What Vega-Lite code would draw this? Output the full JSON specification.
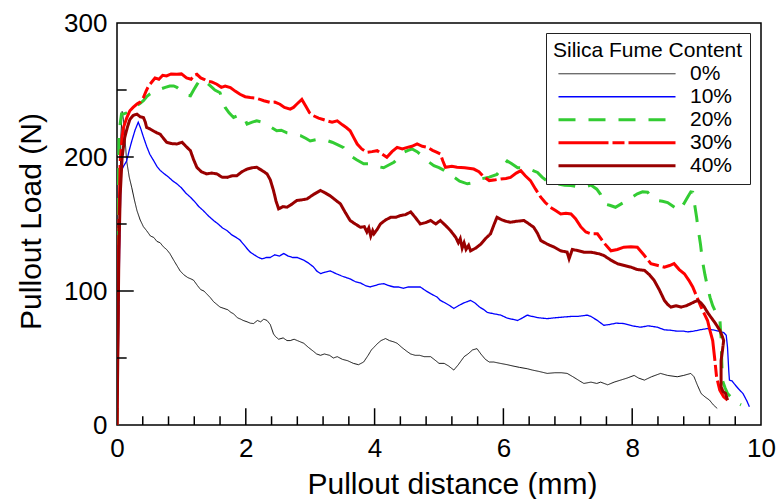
{
  "$schema": "https://vega.github.io/schema/vega-lite/v6.json",
  "width": 644,
  "height": 402,
  "autosize": {"type": "none"},
  "padding": {"left": 117, "top": 23, "right": 15, "bottom": 74},
  "background": "white",
  "config": {
    "view": {"stroke": "black", "strokeWidth": 1.5},
    "font": "Liberation Sans",
    "axis": {
      "domain": false,
      "grid": false,
      "ticks": false,
      "labelFont": "Liberation Sans",
      "labelFontSize": 26,
      "labelColor": "black",
      "titleFont": "Liberation Sans",
      "titleFontSize": 30,
      "titleFontWeight": "normal",
      "titleColor": "black",
      "format": "d"
    },
    "legend": {
      "orient": "none",
      "legendX": 429,
      "legendY": 10,
      "padding": 7,
      "strokeColor": "#222222",
      "fillColor": "white",
      "titleFont": "Liberation Sans",
      "titleFontSize": 21,
      "titleFontWeight": "normal",
      "titleColor": "black",
      "titlePadding": 2,
      "titleLimit": 400,
      "labelFont": "Liberation Sans",
      "labelFontSize": 21,
      "labelColor": "black",
      "symbolType": "stroke",
      "symbolSize": 13689,
      "clipHeight": 21.5,
      "labelOffset": 13,
      "symbolOffset": 4,
      "rowPadding": 0
    }
  },
  "layer": [
    {
      "data": {
        "values": [
          {"s":"0%","x":0,"y":0},{"s":"0%","x":0.02,"y":60},{"s":"0%","x":0.04,"y":150},{"s":"0%","x":0.06,"y":215},{"s":"0%","x":0.08,"y":234},{"s":"0%","x":0.1,"y":228},{"s":"0%","x":0.13,"y":210},{"s":"0%","x":0.15,"y":197},{"s":"0%","x":0.19,"y":185},{"s":"0%","x":0.23,"y":177},{"s":"0%","x":0.27,"y":168},{"s":"0%","x":0.31,"y":160},{"s":"0%","x":0.36,"y":153},{"s":"0%","x":0.41,"y":148},{"s":"0%","x":0.46,"y":145},{"s":"0%","x":0.52,"y":141},{"s":"0%","x":0.57,"y":140},{"s":"0%","x":0.62,"y":137},{"s":"0%","x":0.67,"y":136},{"s":"0%","x":0.72,"y":133},{"s":"0%","x":0.77,"y":131},{"s":"0%","x":0.82,"y":128},{"s":"0%","x":0.88,"y":123},{"s":"0%","x":0.93,"y":119},{"s":"0%","x":0.98,"y":115},{"s":"0%","x":1.04,"y":112},{"s":"0%","x":1.1,"y":110},{"s":"0%","x":1.15,"y":109},{"s":"0%","x":1.19,"y":108},{"s":"0%","x":1.25,"y":104},{"s":"0%","x":1.3,"y":101},{"s":"0%","x":1.35,"y":100},{"s":"0%","x":1.39,"y":98},{"s":"0%","x":1.45,"y":95},{"s":"0%","x":1.5,"y":92},{"s":"0%","x":1.55,"y":90},{"s":"0%","x":1.6,"y":88},{"s":"0%","x":1.66,"y":87},{"s":"0%","x":1.72,"y":86},{"s":"0%","x":1.77,"y":84},{"s":"0%","x":1.81,"y":83},{"s":"0%","x":1.87,"y":80},{"s":"0%","x":1.92,"y":79},{"s":"0%","x":1.96,"y":78},{"s":"0%","x":2.02,"y":77},{"s":"0%","x":2.07,"y":76},{"s":"0%","x":2.12,"y":75.7},{"s":"0%","x":2.18,"y":78},{"s":"0%","x":2.23,"y":77},{"s":"0%","x":2.28,"y":79},{"s":"0%","x":2.33,"y":78},{"s":"0%","x":2.38,"y":75},{"s":"0%","x":2.43,"y":68},{"s":"0%","x":2.46,"y":66},{"s":"0%","x":2.51,"y":64},{"s":"0%","x":2.58,"y":65},{"s":"0%","x":2.64,"y":63},{"s":"0%","x":2.69,"y":63},{"s":"0%","x":2.75,"y":64},{"s":"0%","x":2.8,"y":63},{"s":"0%","x":2.85,"y":62},{"s":"0%","x":2.9,"y":61},{"s":"0%","x":2.97,"y":58},{"s":"0%","x":3.05,"y":55},{"s":"0%","x":3.1,"y":53},{"s":"0%","x":3.16,"y":52},{"s":"0%","x":3.22,"y":53},{"s":"0%","x":3.3,"y":52},{"s":"0%","x":3.36,"y":50},{"s":"0%","x":3.42,"y":51},{"s":"0%","x":3.5,"y":49},{"s":"0%","x":3.58,"y":48},{"s":"0%","x":3.67,"y":46},{"s":"0%","x":3.75,"y":45},{"s":"0%","x":3.83,"y":47},{"s":"0%","x":3.9,"y":52},{"s":"0%","x":3.95,"y":56},{"s":"0%","x":3.99,"y":58},{"s":"0%","x":4.05,"y":61},{"s":"0%","x":4.1,"y":63},{"s":"0%","x":4.17,"y":64.5},{"s":"0%","x":4.23,"y":63},{"s":"0%","x":4.3,"y":62},{"s":"0%","x":4.35,"y":61},{"s":"0%","x":4.42,"y":58},{"s":"0%","x":4.5,"y":55},{"s":"0%","x":4.56,"y":53},{"s":"0%","x":4.63,"y":52},{"s":"0%","x":4.7,"y":52},{"s":"0%","x":4.77,"y":51},{"s":"0%","x":4.87,"y":51},{"s":"0%","x":4.95,"y":48},{"s":"0%","x":5.0,"y":46},{"s":"0%","x":5.08,"y":46},{"s":"0%","x":5.15,"y":44},{"s":"0%","x":5.23,"y":41},{"s":"0%","x":5.3,"y":45},{"s":"0%","x":5.39,"y":51},{"s":"0%","x":5.45,"y":53},{"s":"0%","x":5.52,"y":56},{"s":"0%","x":5.59,"y":57},{"s":"0%","x":5.65,"y":53},{"s":"0%","x":5.72,"y":49},{"s":"0%","x":5.78,"y":47},{"s":"0%","x":5.85,"y":47},{"s":"0%","x":5.95,"y":46},{"s":"0%","x":6.06,"y":45},{"s":"0%","x":6.15,"y":44},{"s":"0%","x":6.25,"y":43},{"s":"0%","x":6.37,"y":42},{"s":"0%","x":6.45,"y":41},{"s":"0%","x":6.55,"y":40},{"s":"0%","x":6.68,"y":38.5},{"s":"0%","x":6.8,"y":39},{"s":"0%","x":6.9,"y":39},{"s":"0%","x":6.99,"y":38.5},{"s":"0%","x":7.08,"y":36},{"s":"0%","x":7.18,"y":33},{"s":"0%","x":7.25,"y":31},{"s":"0%","x":7.36,"y":32},{"s":"0%","x":7.45,"y":31},{"s":"0%","x":7.51,"y":32},{"s":"0%","x":7.62,"y":30},{"s":"0%","x":7.72,"y":32},{"s":"0%","x":7.82,"y":33.5},{"s":"0%","x":7.92,"y":35},{"s":"0%","x":8.03,"y":37},{"s":"0%","x":8.1,"y":35},{"s":"0%","x":8.19,"y":33.5},{"s":"0%","x":8.3,"y":36},{"s":"0%","x":8.44,"y":38.5},{"s":"0%","x":8.55,"y":37},{"s":"0%","x":8.7,"y":36},{"s":"0%","x":8.8,"y":37},{"s":"0%","x":8.91,"y":38.5},{"s":"0%","x":8.96,"y":36},{"s":"0%","x":9.01,"y":30},{"s":"0%","x":9.07,"y":23.5},{"s":"0%","x":9.13,"y":21},{"s":"0%","x":9.2,"y":18.6},{"s":"0%","x":9.26,"y":15},{"s":"0%","x":9.32,"y":12.4},

          {"s":"10%","x":0,"y":0},{"s":"10%","x":0.02,"y":50},{"s":"10%","x":0.04,"y":130},{"s":"10%","x":0.06,"y":180},{"s":"10%","x":0.07,"y":190},{"s":"10%","x":0.1,"y":193},{"s":"10%","x":0.15,"y":197},{"s":"10%","x":0.19,"y":205},{"s":"10%","x":0.23,"y":212},{"s":"10%","x":0.28,"y":220},{"s":"10%","x":0.33,"y":226},{"s":"10%","x":0.37,"y":221},{"s":"10%","x":0.41,"y":215},{"s":"10%","x":0.46,"y":208},{"s":"10%","x":0.51,"y":202},{"s":"10%","x":0.56,"y":198},{"s":"10%","x":0.62,"y":193},{"s":"10%","x":0.67,"y":190},{"s":"10%","x":0.72,"y":188},{"s":"10%","x":0.8,"y":185},{"s":"10%","x":0.87,"y":182},{"s":"10%","x":0.93,"y":180},{"s":"10%","x":1.0,"y":177},{"s":"10%","x":1.07,"y":173},{"s":"10%","x":1.14,"y":170},{"s":"10%","x":1.2,"y":167},{"s":"10%","x":1.27,"y":163},{"s":"10%","x":1.34,"y":160},{"s":"10%","x":1.42,"y":156},{"s":"10%","x":1.5,"y":152.6},{"s":"10%","x":1.57,"y":150},{"s":"10%","x":1.64,"y":147},{"s":"10%","x":1.71,"y":145},{"s":"10%","x":1.78,"y":142},{"s":"10%","x":1.85,"y":140},{"s":"10%","x":1.91,"y":138},{"s":"10%","x":1.98,"y":134},{"s":"10%","x":2.03,"y":131},{"s":"10%","x":2.07,"y":129},{"s":"10%","x":2.13,"y":127},{"s":"10%","x":2.2,"y":125},{"s":"10%","x":2.25,"y":124},{"s":"10%","x":2.32,"y":125},{"s":"10%","x":2.38,"y":125},{"s":"10%","x":2.45,"y":127},{"s":"10%","x":2.52,"y":126},{"s":"10%","x":2.59,"y":128},{"s":"10%","x":2.66,"y":126},{"s":"10%","x":2.73,"y":125},{"s":"10%","x":2.8,"y":125},{"s":"10%","x":2.9,"y":123},{"s":"10%","x":2.97,"y":121},{"s":"10%","x":3.05,"y":118},{"s":"10%","x":3.1,"y":115},{"s":"10%","x":3.16,"y":113},{"s":"10%","x":3.23,"y":114},{"s":"10%","x":3.31,"y":115},{"s":"10%","x":3.4,"y":113},{"s":"10%","x":3.5,"y":111},{"s":"10%","x":3.56,"y":110},{"s":"10%","x":3.62,"y":109},{"s":"10%","x":3.7,"y":107},{"s":"10%","x":3.78,"y":106},{"s":"10%","x":3.86,"y":104},{"s":"10%","x":3.93,"y":103},{"s":"10%","x":4.0,"y":104},{"s":"10%","x":4.07,"y":105},{"s":"10%","x":4.14,"y":105.5},{"s":"10%","x":4.22,"y":104},{"s":"10%","x":4.3,"y":103},{"s":"10%","x":4.37,"y":103},{"s":"10%","x":4.45,"y":102},{"s":"10%","x":4.52,"y":103},{"s":"10%","x":4.6,"y":103},{"s":"10%","x":4.71,"y":103},{"s":"10%","x":4.8,"y":100},{"s":"10%","x":4.87,"y":98},{"s":"10%","x":4.97,"y":95.5},{"s":"10%","x":5.02,"y":93},{"s":"10%","x":5.1,"y":91},{"s":"10%","x":5.17,"y":89},{"s":"10%","x":5.23,"y":87},{"s":"10%","x":5.3,"y":89},{"s":"10%","x":5.38,"y":91},{"s":"10%","x":5.49,"y":93},{"s":"10%","x":5.56,"y":91},{"s":"10%","x":5.63,"y":88},{"s":"10%","x":5.7,"y":86},{"s":"10%","x":5.75,"y":84},{"s":"10%","x":5.85,"y":83},{"s":"10%","x":5.96,"y":82},{"s":"10%","x":6.05,"y":80},{"s":"10%","x":6.13,"y":79},{"s":"10%","x":6.22,"y":78},{"s":"10%","x":6.3,"y":80},{"s":"10%","x":6.37,"y":82},{"s":"10%","x":6.45,"y":81},{"s":"10%","x":6.55,"y":80},{"s":"10%","x":6.68,"y":79.4},{"s":"10%","x":6.8,"y":80},{"s":"10%","x":6.94,"y":80.6},{"s":"10%","x":7.05,"y":81},{"s":"10%","x":7.15,"y":81},{"s":"10%","x":7.3,"y":82},{"s":"10%","x":7.36,"y":81},{"s":"10%","x":7.46,"y":78},{"s":"10%","x":7.56,"y":74.4},{"s":"10%","x":7.65,"y":75},{"s":"10%","x":7.75,"y":76},{"s":"10%","x":7.87,"y":75.7},{"s":"10%","x":8.0,"y":74},{"s":"10%","x":8.13,"y":73},{"s":"10%","x":8.25,"y":74},{"s":"10%","x":8.39,"y":73},{"s":"10%","x":8.5,"y":71},{"s":"10%","x":8.6,"y":70.7},{"s":"10%","x":8.7,"y":70},{"s":"10%","x":8.8,"y":70},{"s":"10%","x":8.86,"y":69.5},{"s":"10%","x":8.95,"y":70},{"s":"10%","x":9.05,"y":71},{"s":"10%","x":9.17,"y":72},{"s":"10%","x":9.25,"y":71},{"s":"10%","x":9.35,"y":70},{"s":"10%","x":9.42,"y":69},{"s":"10%","x":9.46,"y":67},{"s":"10%","x":9.48,"y":58},{"s":"10%","x":9.5,"y":40},{"s":"10%","x":9.51,"y":33.5},{"s":"10%","x":9.55,"y":33},{"s":"10%","x":9.58,"y":31},{"s":"10%","x":9.65,"y":27},{"s":"10%","x":9.72,"y":23.5},{"s":"10%","x":9.78,"y":18},{"s":"10%","x":9.82,"y":13.6},

          {"s":"20%","x":0,"y":0},{"s":"20%","x":0.01,"y":80},{"s":"20%","x":0.02,"y":160},{"s":"20%","x":0.03,"y":215},{"s":"20%","x":0.05,"y":225},{"s":"20%","x":0.07,"y":232},{"s":"20%","x":0.1,"y":232},{"s":"20%","x":0.15,"y":233},{"s":"20%","x":0.2,"y":235},{"s":"20%","x":0.25,"y":236},{"s":"20%","x":0.3,"y":238},{"s":"20%","x":0.36,"y":240},{"s":"20%","x":0.41,"y":242},{"s":"20%","x":0.46,"y":245},{"s":"20%","x":0.51,"y":247},{"s":"20%","x":0.58,"y":249},{"s":"20%","x":0.67,"y":250.6},{"s":"20%","x":0.75,"y":252},{"s":"20%","x":0.82,"y":253},{"s":"20%","x":0.88,"y":253},{"s":"20%","x":0.93,"y":252},{"s":"20%","x":0.98,"y":250},{"s":"20%","x":1.03,"y":248},{"s":"20%","x":1.09,"y":246},{"s":"20%","x":1.14,"y":245.7},{"s":"20%","x":1.19,"y":250},{"s":"20%","x":1.24,"y":254},{"s":"20%","x":1.28,"y":257},{"s":"20%","x":1.32,"y":258},{"s":"20%","x":1.38,"y":256},{"s":"20%","x":1.45,"y":253},{"s":"20%","x":1.52,"y":250},{"s":"20%","x":1.6,"y":248},{"s":"20%","x":1.64,"y":242},{"s":"20%","x":1.68,"y":237},{"s":"20%","x":1.74,"y":233},{"s":"20%","x":1.81,"y":229.5},{"s":"20%","x":1.88,"y":231},{"s":"20%","x":1.96,"y":230.8},{"s":"20%","x":2.02,"y":224.6},{"s":"20%","x":2.1,"y":226},{"s":"20%","x":2.17,"y":227},{"s":"20%","x":2.25,"y":226},{"s":"20%","x":2.33,"y":224.6},{"s":"20%","x":2.4,"y":222},{"s":"20%","x":2.48,"y":219.6},{"s":"20%","x":2.55,"y":220},{"s":"20%","x":2.64,"y":218},{"s":"20%","x":2.75,"y":217},{"s":"20%","x":2.85,"y":216},{"s":"20%","x":2.93,"y":214},{"s":"20%","x":3.0,"y":212},{"s":"20%","x":3.1,"y":213},{"s":"20%","x":3.21,"y":212},{"s":"20%","x":3.28,"y":212},{"s":"20%","x":3.34,"y":211},{"s":"20%","x":3.43,"y":209},{"s":"20%","x":3.52,"y":207},{"s":"20%","x":3.57,"y":204},{"s":"20%","x":3.62,"y":201},{"s":"20%","x":3.72,"y":198},{"s":"20%","x":3.83,"y":195},{"s":"20%","x":3.93,"y":195},{"s":"20%","x":4.03,"y":193},{"s":"20%","x":4.14,"y":192},{"s":"20%","x":4.22,"y":194},{"s":"20%","x":4.3,"y":196},{"s":"20%","x":4.38,"y":200},{"s":"20%","x":4.45,"y":203.5},{"s":"20%","x":4.52,"y":205},{"s":"20%","x":4.58,"y":206},{"s":"20%","x":4.66,"y":204},{"s":"20%","x":4.76,"y":200},{"s":"20%","x":4.85,"y":196},{"s":"20%","x":4.92,"y":193.5},{"s":"20%","x":5.0,"y":192},{"s":"20%","x":5.08,"y":190},{"s":"20%","x":5.15,"y":188},{"s":"20%","x":5.23,"y":185},{"s":"20%","x":5.32,"y":182},{"s":"20%","x":5.44,"y":180},{"s":"20%","x":5.55,"y":181},{"s":"20%","x":5.65,"y":183.6},{"s":"20%","x":5.78,"y":185},{"s":"20%","x":5.9,"y":187},{"s":"20%","x":5.98,"y":192},{"s":"20%","x":6.06,"y":197},{"s":"20%","x":6.13,"y":195},{"s":"20%","x":6.22,"y":192},{"s":"20%","x":6.3,"y":192},{"s":"20%","x":6.37,"y":192},{"s":"20%","x":6.45,"y":190},{"s":"20%","x":6.53,"y":188.5},{"s":"20%","x":6.6,"y":185},{"s":"20%","x":6.68,"y":182},{"s":"20%","x":6.76,"y":181},{"s":"20%","x":6.84,"y":180},{"s":"20%","x":6.95,"y":179},{"s":"20%","x":7.05,"y":178.7},{"s":"20%","x":7.13,"y":178},{"s":"20%","x":7.2,"y":177.4},{"s":"20%","x":7.28,"y":178},{"s":"20%","x":7.36,"y":179},{"s":"20%","x":7.45,"y":176},{"s":"20%","x":7.51,"y":172},{"s":"20%","x":7.56,"y":165},{"s":"20%","x":7.65,"y":164},{"s":"20%","x":7.74,"y":162.5},{"s":"20%","x":7.83,"y":165},{"s":"20%","x":7.93,"y":167.5},{"s":"20%","x":8.0,"y":170},{"s":"20%","x":8.08,"y":172.5},{"s":"20%","x":8.16,"y":174},{"s":"20%","x":8.24,"y":173.7},{"s":"20%","x":8.3,"y":170},{"s":"20%","x":8.39,"y":167.5},{"s":"20%","x":8.47,"y":167},{"s":"20%","x":8.55,"y":166},{"s":"20%","x":8.64,"y":163},{"s":"20%","x":8.73,"y":160},{"s":"20%","x":8.8,"y":165},{"s":"20%","x":8.86,"y":170},{"s":"20%","x":8.91,"y":174},{"s":"20%","x":8.94,"y":173.7},{"s":"20%","x":8.96,"y":167.5},{"s":"20%","x":9.0,"y":155},{"s":"20%","x":9.02,"y":147.6},{"s":"20%","x":9.06,"y":135},{"s":"20%","x":9.09,"y":122.8},{"s":"20%","x":9.13,"y":112},{"s":"20%","x":9.17,"y":103},{"s":"20%","x":9.21,"y":95},{"s":"20%","x":9.25,"y":89},{"s":"20%","x":9.3,"y":84},{"s":"20%","x":9.36,"y":80.6},{"s":"20%","x":9.37,"y":72},{"s":"20%","x":9.38,"y":65.7},{"s":"20%","x":9.39,"y":48},{"s":"20%","x":9.4,"y":33.5},{"s":"20%","x":9.44,"y":28},{"s":"20%","x":9.48,"y":23.5},{"s":"20%","x":9.53,"y":21},{"s":"20%","x":9.58,"y":18.6},{"s":"20%","x":9.63,"y":16.5},{"s":"20%","x":9.69,"y":15},

          {"s":"30%","x":0,"y":0},{"s":"30%","x":0.01,"y":60},{"s":"30%","x":0.03,"y":150},{"s":"30%","x":0.05,"y":197},{"s":"30%","x":0.08,"y":215},{"s":"30%","x":0.1,"y":222},{"s":"30%","x":0.15,"y":229},{"s":"30%","x":0.2,"y":234.5},{"s":"30%","x":0.25,"y":237},{"s":"30%","x":0.31,"y":239.5},{"s":"30%","x":0.36,"y":241},{"s":"30%","x":0.41,"y":244.4},{"s":"30%","x":0.45,"y":249},{"s":"30%","x":0.49,"y":253},{"s":"30%","x":0.54,"y":256},{"s":"30%","x":0.59,"y":259},{"s":"30%","x":0.65,"y":258},{"s":"30%","x":0.71,"y":261},{"s":"30%","x":0.77,"y":260.5},{"s":"30%","x":0.84,"y":262},{"s":"30%","x":0.93,"y":261.7},{"s":"30%","x":1.0,"y":262},{"s":"30%","x":1.08,"y":259},{"s":"30%","x":1.15,"y":258},{"s":"30%","x":1.2,"y":261},{"s":"30%","x":1.24,"y":261.7},{"s":"30%","x":1.3,"y":259},{"s":"30%","x":1.35,"y":258},{"s":"30%","x":1.39,"y":256.8},{"s":"30%","x":1.47,"y":256},{"s":"30%","x":1.55,"y":254.3},{"s":"30%","x":1.62,"y":252},{"s":"30%","x":1.68,"y":253},{"s":"30%","x":1.76,"y":251.8},{"s":"30%","x":1.84,"y":249},{"s":"30%","x":1.91,"y":246.8},{"s":"30%","x":1.99,"y":245},{"s":"30%","x":2.07,"y":244.4},{"s":"30%","x":2.15,"y":244},{"s":"30%","x":2.22,"y":243},{"s":"30%","x":2.28,"y":242},{"s":"30%","x":2.38,"y":240.7},{"s":"30%","x":2.45,"y":241},{"s":"30%","x":2.53,"y":239.4},{"s":"30%","x":2.6,"y":237},{"s":"30%","x":2.69,"y":235.7},{"s":"30%","x":2.74,"y":237},{"s":"30%","x":2.79,"y":239.4},{"s":"30%","x":2.87,"y":243},{"s":"30%","x":2.93,"y":238},{"s":"30%","x":2.99,"y":233},{"s":"30%","x":3.05,"y":230.8},{"s":"30%","x":3.13,"y":229},{"s":"30%","x":3.2,"y":228},{"s":"30%","x":3.26,"y":227},{"s":"30%","x":3.34,"y":226},{"s":"30%","x":3.42,"y":227},{"s":"30%","x":3.5,"y":224},{"s":"30%","x":3.56,"y":222},{"s":"30%","x":3.62,"y":219.6},{"s":"30%","x":3.67,"y":215},{"s":"30%","x":3.73,"y":209.7},{"s":"30%","x":3.8,"y":206},{"s":"30%","x":3.88,"y":203.5},{"s":"30%","x":3.96,"y":204},{"s":"30%","x":4.04,"y":204.7},{"s":"30%","x":4.12,"y":202},{"s":"30%","x":4.19,"y":199.8},{"s":"30%","x":4.27,"y":204},{"s":"30%","x":4.35,"y":207.2},{"s":"30%","x":4.43,"y":206},{"s":"30%","x":4.51,"y":207.2},{"s":"30%","x":4.58,"y":208},{"s":"30%","x":4.66,"y":209.7},{"s":"30%","x":4.74,"y":208},{"s":"30%","x":4.82,"y":207.2},{"s":"30%","x":4.9,"y":205},{"s":"30%","x":4.97,"y":203.5},{"s":"30%","x":5.02,"y":202.3},{"s":"30%","x":5.06,"y":197},{"s":"30%","x":5.1,"y":192.3},{"s":"30%","x":5.2,"y":193},{"s":"30%","x":5.28,"y":192.3},{"s":"30%","x":5.4,"y":192},{"s":"30%","x":5.54,"y":191},{"s":"30%","x":5.62,"y":189},{"s":"30%","x":5.7,"y":185},{"s":"30%","x":5.78,"y":182.4},{"s":"30%","x":5.88,"y":183},{"s":"30%","x":5.96,"y":183.6},{"s":"30%","x":6.04,"y":184},{"s":"30%","x":6.11,"y":184.8},{"s":"30%","x":6.2,"y":188},{"s":"30%","x":6.27,"y":189.8},{"s":"30%","x":6.34,"y":186},{"s":"30%","x":6.42,"y":182.4},{"s":"30%","x":6.5,"y":176},{"s":"30%","x":6.58,"y":170},{"s":"30%","x":6.65,"y":166},{"s":"30%","x":6.73,"y":162.5},{"s":"30%","x":6.81,"y":160},{"s":"30%","x":6.89,"y":157.5},{"s":"30%","x":6.97,"y":158},{"s":"30%","x":7.05,"y":157.5},{"s":"30%","x":7.12,"y":154},{"s":"30%","x":7.2,"y":148},{"s":"30%","x":7.28,"y":144},{"s":"30%","x":7.36,"y":142.7},{"s":"30%","x":7.46,"y":142.7},{"s":"30%","x":7.56,"y":136},{"s":"30%","x":7.67,"y":130},{"s":"30%","x":7.77,"y":131},{"s":"30%","x":7.87,"y":132.7},{"s":"30%","x":7.98,"y":133},{"s":"30%","x":8.08,"y":132.7},{"s":"30%","x":8.18,"y":127},{"s":"30%","x":8.29,"y":120.4},{"s":"30%","x":8.4,"y":119},{"s":"30%","x":8.5,"y":117.8},{"s":"30%","x":8.58,"y":119},{"s":"30%","x":8.65,"y":120.4},{"s":"30%","x":8.73,"y":116},{"s":"30%","x":8.81,"y":112.9},{"s":"30%","x":8.88,"y":108},{"s":"30%","x":8.94,"y":103},{"s":"30%","x":9.0,"y":96},{"s":"30%","x":9.07,"y":88},{"s":"30%","x":9.12,"y":83},{"s":"30%","x":9.17,"y":78},{"s":"30%","x":9.21,"y":70},{"s":"30%","x":9.25,"y":63},{"s":"30%","x":9.28,"y":50},{"s":"30%","x":9.31,"y":36},{"s":"30%","x":9.34,"y":30},{"s":"30%","x":9.36,"y":26},{"s":"30%","x":9.42,"y":21},{"s":"30%","x":9.48,"y":18.6},

          {"s":"40%","x":0,"y":0},{"s":"40%","x":0.01,"y":40},{"s":"40%","x":0.02,"y":90},{"s":"40%","x":0.03,"y":130},{"s":"40%","x":0.05,"y":172},{"s":"40%","x":0.08,"y":200},{"s":"40%","x":0.12,"y":214.6},{"s":"40%","x":0.16,"y":222},{"s":"40%","x":0.2,"y":228},{"s":"40%","x":0.25,"y":231},{"s":"40%","x":0.31,"y":232},{"s":"40%","x":0.36,"y":230},{"s":"40%","x":0.41,"y":229.5},{"s":"40%","x":0.44,"y":226},{"s":"40%","x":0.46,"y":222},{"s":"40%","x":0.51,"y":221},{"s":"40%","x":0.56,"y":219.6},{"s":"40%","x":0.62,"y":218},{"s":"40%","x":0.67,"y":217},{"s":"40%","x":0.72,"y":214},{"s":"40%","x":0.77,"y":211},{"s":"40%","x":0.85,"y":210},{"s":"40%","x":0.93,"y":209.7},{"s":"40%","x":1.01,"y":211},{"s":"40%","x":1.07,"y":208},{"s":"40%","x":1.14,"y":204.7},{"s":"40%","x":1.19,"y":198},{"s":"40%","x":1.24,"y":192.3},{"s":"40%","x":1.31,"y":189},{"s":"40%","x":1.39,"y":187.4},{"s":"40%","x":1.47,"y":188},{"s":"40%","x":1.55,"y":187.4},{"s":"40%","x":1.63,"y":185},{"s":"40%","x":1.71,"y":184.8},{"s":"40%","x":1.79,"y":186},{"s":"40%","x":1.86,"y":186},{"s":"40%","x":1.94,"y":189},{"s":"40%","x":2.02,"y":191},{"s":"40%","x":2.1,"y":192},{"s":"40%","x":2.17,"y":192.3},{"s":"40%","x":2.25,"y":190},{"s":"40%","x":2.33,"y":187.4},{"s":"40%","x":2.38,"y":183},{"s":"40%","x":2.43,"y":175},{"s":"40%","x":2.47,"y":167},{"s":"40%","x":2.51,"y":161.3},{"s":"40%","x":2.58,"y":163},{"s":"40%","x":2.64,"y":162.5},{"s":"40%","x":2.72,"y":165},{"s":"40%","x":2.79,"y":167.5},{"s":"40%","x":2.87,"y":168},{"s":"40%","x":2.95,"y":168.7},{"s":"40%","x":3.05,"y":172},{"s":"40%","x":3.16,"y":175},{"s":"40%","x":3.24,"y":173},{"s":"40%","x":3.31,"y":171},{"s":"40%","x":3.39,"y":168},{"s":"40%","x":3.47,"y":165},{"s":"40%","x":3.54,"y":159},{"s":"40%","x":3.62,"y":152.6},{"s":"40%","x":3.7,"y":150},{"s":"40%","x":3.78,"y":147.6},{"s":"40%","x":3.84,"y":148},{"s":"40%","x":3.88,"y":144},{"s":"40%","x":3.91,"y":147},{"s":"40%","x":3.94,"y":141},{"s":"40%","x":3.97,"y":145},{"s":"40%","x":3.99,"y":142.7},{"s":"40%","x":4.04,"y":146},{"s":"40%","x":4.09,"y":150},{"s":"40%","x":4.17,"y":153},{"s":"40%","x":4.25,"y":155},{"s":"40%","x":4.33,"y":155},{"s":"40%","x":4.4,"y":156.3},{"s":"40%","x":4.48,"y":157},{"s":"40%","x":4.56,"y":159},{"s":"40%","x":4.63,"y":155},{"s":"40%","x":4.71,"y":150},{"s":"40%","x":4.79,"y":151},{"s":"40%","x":4.87,"y":152.6},{"s":"40%","x":4.95,"y":150},{"s":"40%","x":5.02,"y":152.6},{"s":"40%","x":5.1,"y":149},{"s":"40%","x":5.18,"y":145},{"s":"40%","x":5.26,"y":140},{"s":"40%","x":5.3,"y":136},{"s":"40%","x":5.33,"y":139},{"s":"40%","x":5.36,"y":132},{"s":"40%","x":5.39,"y":136},{"s":"40%","x":5.42,"y":131},{"s":"40%","x":5.46,"y":134},{"s":"40%","x":5.49,"y":130},{"s":"40%","x":5.57,"y":132},{"s":"40%","x":5.65,"y":135},{"s":"40%","x":5.72,"y":139},{"s":"40%","x":5.8,"y":142.7},{"s":"40%","x":5.85,"y":149},{"s":"40%","x":5.9,"y":155},{"s":"40%","x":5.98,"y":153},{"s":"40%","x":6.04,"y":152},{"s":"40%","x":6.11,"y":151.3},{"s":"40%","x":6.2,"y":152},{"s":"40%","x":6.32,"y":152.6},{"s":"40%","x":6.4,"y":150},{"s":"40%","x":6.47,"y":147.6},{"s":"40%","x":6.53,"y":143},{"s":"40%","x":6.58,"y":137.7},{"s":"40%","x":6.68,"y":135},{"s":"40%","x":6.79,"y":132.7},{"s":"40%","x":6.89,"y":130},{"s":"40%","x":6.99,"y":129},{"s":"40%","x":7.02,"y":124},{"s":"40%","x":7.07,"y":131},{"s":"40%","x":7.15,"y":130.2},{"s":"40%","x":7.25,"y":129},{"s":"40%","x":7.36,"y":129},{"s":"40%","x":7.49,"y":127.7},{"s":"40%","x":7.56,"y":126.5},{"s":"40%","x":7.67,"y":123},{"s":"40%","x":7.77,"y":120.4},{"s":"40%","x":7.88,"y":119},{"s":"40%","x":7.98,"y":117.8},{"s":"40%","x":8.08,"y":116},{"s":"40%","x":8.19,"y":115.4},{"s":"40%","x":8.27,"y":112},{"s":"40%","x":8.34,"y":108},{"s":"40%","x":8.42,"y":101},{"s":"40%","x":8.5,"y":93},{"s":"40%","x":8.55,"y":90},{"s":"40%","x":8.6,"y":88},{"s":"40%","x":8.68,"y":89},{"s":"40%","x":8.76,"y":88},{"s":"40%","x":8.84,"y":89},{"s":"40%","x":8.91,"y":90.6},{"s":"40%","x":8.97,"y":92},{"s":"40%","x":9.02,"y":93},{"s":"40%","x":9.07,"y":91},{"s":"40%","x":9.12,"y":88},{"s":"40%","x":9.17,"y":84},{"s":"40%","x":9.22,"y":80.6},{"s":"40%","x":9.29,"y":76},{"s":"40%","x":9.36,"y":70.7},{"s":"40%","x":9.4,"y":66},{"s":"40%","x":9.42,"y":63},{"s":"40%","x":9.4,"y":55},{"s":"40%","x":9.38,"y":48},{"s":"40%","x":9.38,"y":38},{"s":"40%","x":9.38,"y":28.5},{"s":"40%","x":9.41,"y":25},{"s":"40%","x":9.45,"y":23.5},{"s":"40%","x":9.48,"y":18.6}
        ]
      },
      "mark": {"type": "line", "clip": true},
      "encoding": {
        "x": {
          "field": "x",
          "type": "quantitative",
          "title": "Pullout distance (mm)",
          "scale": {"domain": [0, 10], "nice": false, "zero": false, "padding": 0},
          "axis": {
            "values": [0, 2, 4, 6, 8, 10],
            "labelPadding": 10,
            "labelFlush": false,
            "labelOverlap": false,
            "titleX": 335,
            "titleY": 68,
            "titleBaseline": "alphabetic"
          }
        },
        "y": {
          "field": "y",
          "type": "quantitative",
          "title": "Pullout Load (N)",
          "scale": {"domain": [0, 300], "nice": false, "padding": 0},
          "axis": {
            "values": [0, 100, 200, 300],
            "labelPadding": 10,
            "labelFlush": false,
            "labelOverlap": false,
            "titleX": -77,
            "titleY": 198,
            "titleBaseline": "alphabetic"
          }
        },
        "color": {
          "field": "s",
          "type": "nominal",
          "title": "Silica Fume Content",
          "scale": {"domain": ["0%", "10%", "20%", "30%", "40%"], "range": ["#111111", "#0000ff", "#33cc33", "#ff0000", "#990000"]}
        },
        "strokeDash": {
          "field": "s",
          "type": "nominal",
          "title": "Silica Fume Content",
          "scale": {"domain": ["0%", "10%", "20%", "30%", "40%"], "range": [[1, 0], [1, 0], [17, 13], [50, 4, 12, 4], [1, 0]]}
        },
        "strokeWidth": {
          "field": "s",
          "type": "nominal",
          "title": "Silica Fume Content",
          "scale": {"type": "ordinal", "domain": ["0%", "10%", "20%", "30%", "40%"], "range": [1, 1.3, 3, 3, 3]}
        },
        "order": {"value": null}
      }
    },
    {
      "description": "minor x ticks as thin bars rising from the bottom edge",
      "data": {"values": [{"t":0.4},{"t":0.8},{"t":1.2},{"t":1.6},{"t":2.4},{"t":2.8},{"t":3.2},{"t":3.6},{"t":4.4},{"t":4.8},{"t":5.2},{"t":5.6},{"t":6.4},{"t":6.8},{"t":7.2},{"t":7.6},{"t":8.4},{"t":8.8},{"t":9.2},{"t":9.6}]},
      "mark": {"type": "bar", "color": "#000000", "width": 1.5, "orient": "vertical"},
      "encoding": {
        "x": {"field": "t", "type": "quantitative", "scale": {"domain": [0, 10], "nice": false, "zero": false, "padding": 0}},
        "y": {"datum": 0, "type": "quantitative", "scale": {"domain": [0, 300], "nice": false, "padding": 0}},
        "y2": {"datum": 6.5}
      }
    },
    {
      "description": "major x ticks",
      "data": {"values": [{"t":2},{"t":4},{"t":6},{"t":8}]},
      "mark": {"type": "bar", "color": "#000000", "width": 1.5, "orient": "vertical"},
      "encoding": {
        "x": {"field": "t", "type": "quantitative", "scale": {"domain": [0, 10], "nice": false, "zero": false, "padding": 0}},
        "y": {"datum": 0, "type": "quantitative", "scale": {"domain": [0, 300], "nice": false, "padding": 0}},
        "y2": {"datum": 12.5}
      }
    },
    {
      "description": "minor y ticks as thin bars from the left edge",
      "data": {"values": [{"t":50},{"t":150},{"t":250}]},
      "mark": {"type": "bar", "color": "#000000", "height": 1.5, "orient": "horizontal"},
      "encoding": {
        "y": {"field": "t", "type": "quantitative", "scale": {"domain": [0, 300], "nice": false, "padding": 0}},
        "x": {"datum": 0, "type": "quantitative", "scale": {"domain": [0, 10], "nice": false, "zero": false, "padding": 0}},
        "x2": {"datum": 0.15}
      }
    },
    {
      "description": "major y ticks",
      "data": {"values": [{"t":100},{"t":200}]},
      "mark": {"type": "bar", "color": "#000000", "height": 1.5, "orient": "horizontal"},
      "encoding": {
        "y": {"field": "t", "type": "quantitative", "scale": {"domain": [0, 300], "nice": false, "padding": 0}},
        "x": {"datum": 0, "type": "quantitative", "scale": {"domain": [0, 10], "nice": false, "zero": false, "padding": 0}},
        "x2": {"datum": 0.26}
      }
    }
  ]
}
